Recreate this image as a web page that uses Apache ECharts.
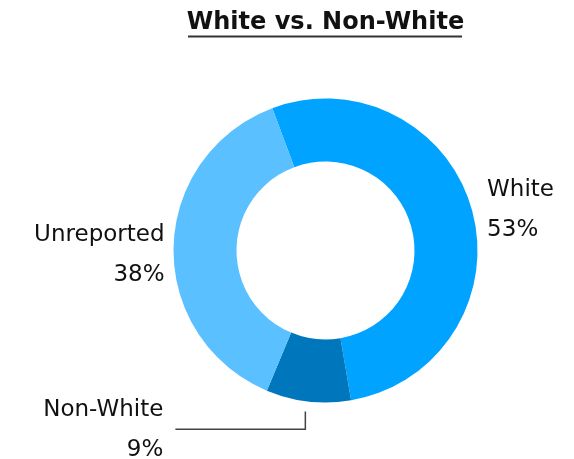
<!DOCTYPE html>
<html>
<head>
<meta charset="utf-8">
<script src="https://cdn.jsdelivr.net/npm/echarts@6/dist/echarts.min.js"></script>
<style>
  html, body { margin: 0; padding: 0; background: #fff; }
  #chart { width: 574px; height: 459px; }
</style>
</head>
<body>
<div id="chart"></div>
<script>
// Share of respondents by reported race
const categories = ['White', 'Non-White', 'Unreported'];
const shares = [53, 9, 38];
const sliceColors = ['#00A3FF', '#0077BD', '#5BC0FF'];
const chartTitle = 'White vs. Non-White';

const FONT = '"DejaVu Sans", "Noto Sans", sans-serif';
const CENTER = [325.5, 250.5];

// Per-slice label placement tweaks
const labelTweaks = {
  'White':      { labelLine: { show: false, length: 4, length2: 6 } },
  'Unreported': { labelLine: { show: false, length: 4, length2: 0 } },
  'Non-White':  { labelLine: { show: true, length: 26, length2: 130 },
                  label: { distanceToLabelLine: 12 } }
};
// extra vertical nudge of each label, px
const labelNudge = { 'White': 0, 'Non-White': 3, 'Unreported': 8 };

const data = categories.map((name, i) => Object.assign({
  name: name,
  value: shares[i],
  itemStyle: { color: sliceColors[i] }
}, labelTweaks[name]));

const chart = echarts.init(document.getElementById('chart'), null, { renderer: 'canvas' });
chart.setOption({
  animation: false,
  backgroundColor: '#ffffff',
  graphic: [
    {
      // title, centred over the donut, with its underline
      type: 'text',
      x: CENTER[0],
      y: 35,
      style: {
        text: chartTitle,
        fontFamily: FONT,
        fontSize: 24,
        fontWeight: 'bold',
        fill: '#111',
        textAlign: 'center',
        textVerticalAlign: 'bottom'
      }
    },
    {
      type: 'line',
      shape: { x1: 188, y1: 36.5, x2: 462, y2: 36.5 },
      style: { stroke: '#333', lineWidth: 2 }
    }
  ],
  series: [{
    type: 'pie',
    center: CENTER,
    radius: [89, 152],
    startAngle: 110.5,
    clockwise: true,
    avoidLabelOverlap: false,
    data: data,
    label: {
      show: true,
      position: 'outside',
      formatter: '{b}\n{c}%',
      fontFamily: FONT,
      fontSize: 23,
      lineHeight: 40,
      color: '#111'
    },
    labelLine: {
      lineStyle: { color: '#444', width: 1.5 },
      smooth: false
    },
    labelLayout: function (params) {
      const nudge = labelNudge[categories[params.dataIndex]] || 0;
      const out = { dy: nudge };
      const pts = params.labelLinePoints;
      if (pts && pts.length >= 3) {
        // leader line drops straight down, starting a little below the ring
        const p = pts.map(function (a) { return a.slice(); });
        p[1][1] += 2;
        p[2][1] += 2;
        p[0] = [p[1][0], p[0][1] + 10];
        out.labelLinePoints = p;
      }
      return out;
    },
    emphasis: { disabled: true }
  }]
});
</script>
</body>
</html>
